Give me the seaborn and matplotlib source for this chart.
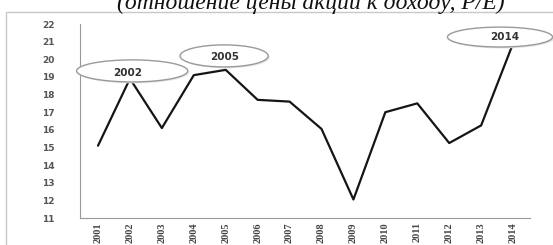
import matplotlib
matplotlib.use("Agg")
import matplotlib.pyplot as plt
from matplotlib.patches import Ellipse, Rectangle
import seaborn as sns
import pandas as pd

# P/E ratio by year
years = list(range(2001, 2015))
pe_ratio = [15.1, 18.9, 16.1, 19.1, 19.4, 17.7, 17.6, 16.05, 12.05, 17.0, 17.5, 15.25, 16.25, 20.9]
y_ticks = list(range(11, 23))
callouts = ["2002", "2005", "2014"]
title = "(отношение цены акций к доходу, P/E)"

sns.set_style("white")
plt.rcParams["font.family"] = ["DejaVu Sans"]

df = pd.DataFrame({"year": years, "pe": pe_ratio})

fig = plt.figure(figsize=(5.53, 2.45), dpi=100)
ax = fig.add_axes([80 / 553, 1 - 218 / 245, 450 / 553, 194 / 245])

sns.lineplot(data=df, x="year", y="pe", ax=ax, color="#151515", linewidth=1.6)

ax.set_xlim(2000.436, 2014.53)
ax.set_ylim(11, 22)
ax.set_yticks(y_ticks)
ax.set_yticklabels([str(v) for v in y_ticks], fontsize=6.5, color="#555555", fontweight="bold")
ax.set_xticks(years)
ax.set_xticklabels([str(y) for y in years], rotation=90, fontsize=7.5,
                   color="#444444", family="Liberation Serif", fontweight="bold")
ax.tick_params(axis="y", length=4, width=0.8, color="#999999", pad=14, direction="out")
ax.tick_params(axis="x", length=0, pad=3)
ax.set_xlabel("")
ax.set_ylabel("")
for side in ["top", "right"]:
    ax.spines[side].set_visible(False)
for side in ["left", "bottom"]:
    ax.spines[side].set_color("#999999")
    ax.spines[side].set_linewidth(0.8)

# callout ellipses (center x, center y, width, height in data units)
ell_pos = [(2002.07, 19.34, 3.48, 1.25), (2004.95, 20.19, 2.76, 1.25), (2013.59, 21.26, 3.29, 1.13)]
txt_pos = [(2001.94, 19.22), (2004.98, 20.13), (2013.75, 21.26)]
for (cx, cy, w, h), (tx, ty), lab in zip(ell_pos, txt_pos, callouts):
    ax.add_patch(Ellipse((cx + 0.05, cy - 0.08), w, h, facecolor="#e6e6e6", edgecolor="none",
                         clip_on=False, zorder=4))
    ax.add_patch(Ellipse((cx, cy), w, h, facecolor="white", edgecolor="#9a9a9a",
                         linewidth=1, clip_on=False, zorder=5))
    ax.text(tx, ty, lab, ha="center", va="center", fontsize=7.5, fontweight="bold",
            color="#333333", zorder=6, clip_on=False)

# outer chart frame
fig.add_artist(Rectangle((6 / 553, -0.1), 1.0, 1 - 12 / 245 + 0.1, transform=fig.transFigure,
                         fill=False, edgecolor="#c8c8c8", linewidth=1))

# title is cropped at the top edge, as in the source image
fig.text(311 / 553, 1 - 9 / 245, title, ha="center", va="baseline", fontsize=17,
         fontstyle="italic", family="Liberation Serif", color="#111111")

fig.savefig("out.png", dpi=100)
plt.close(fig)
